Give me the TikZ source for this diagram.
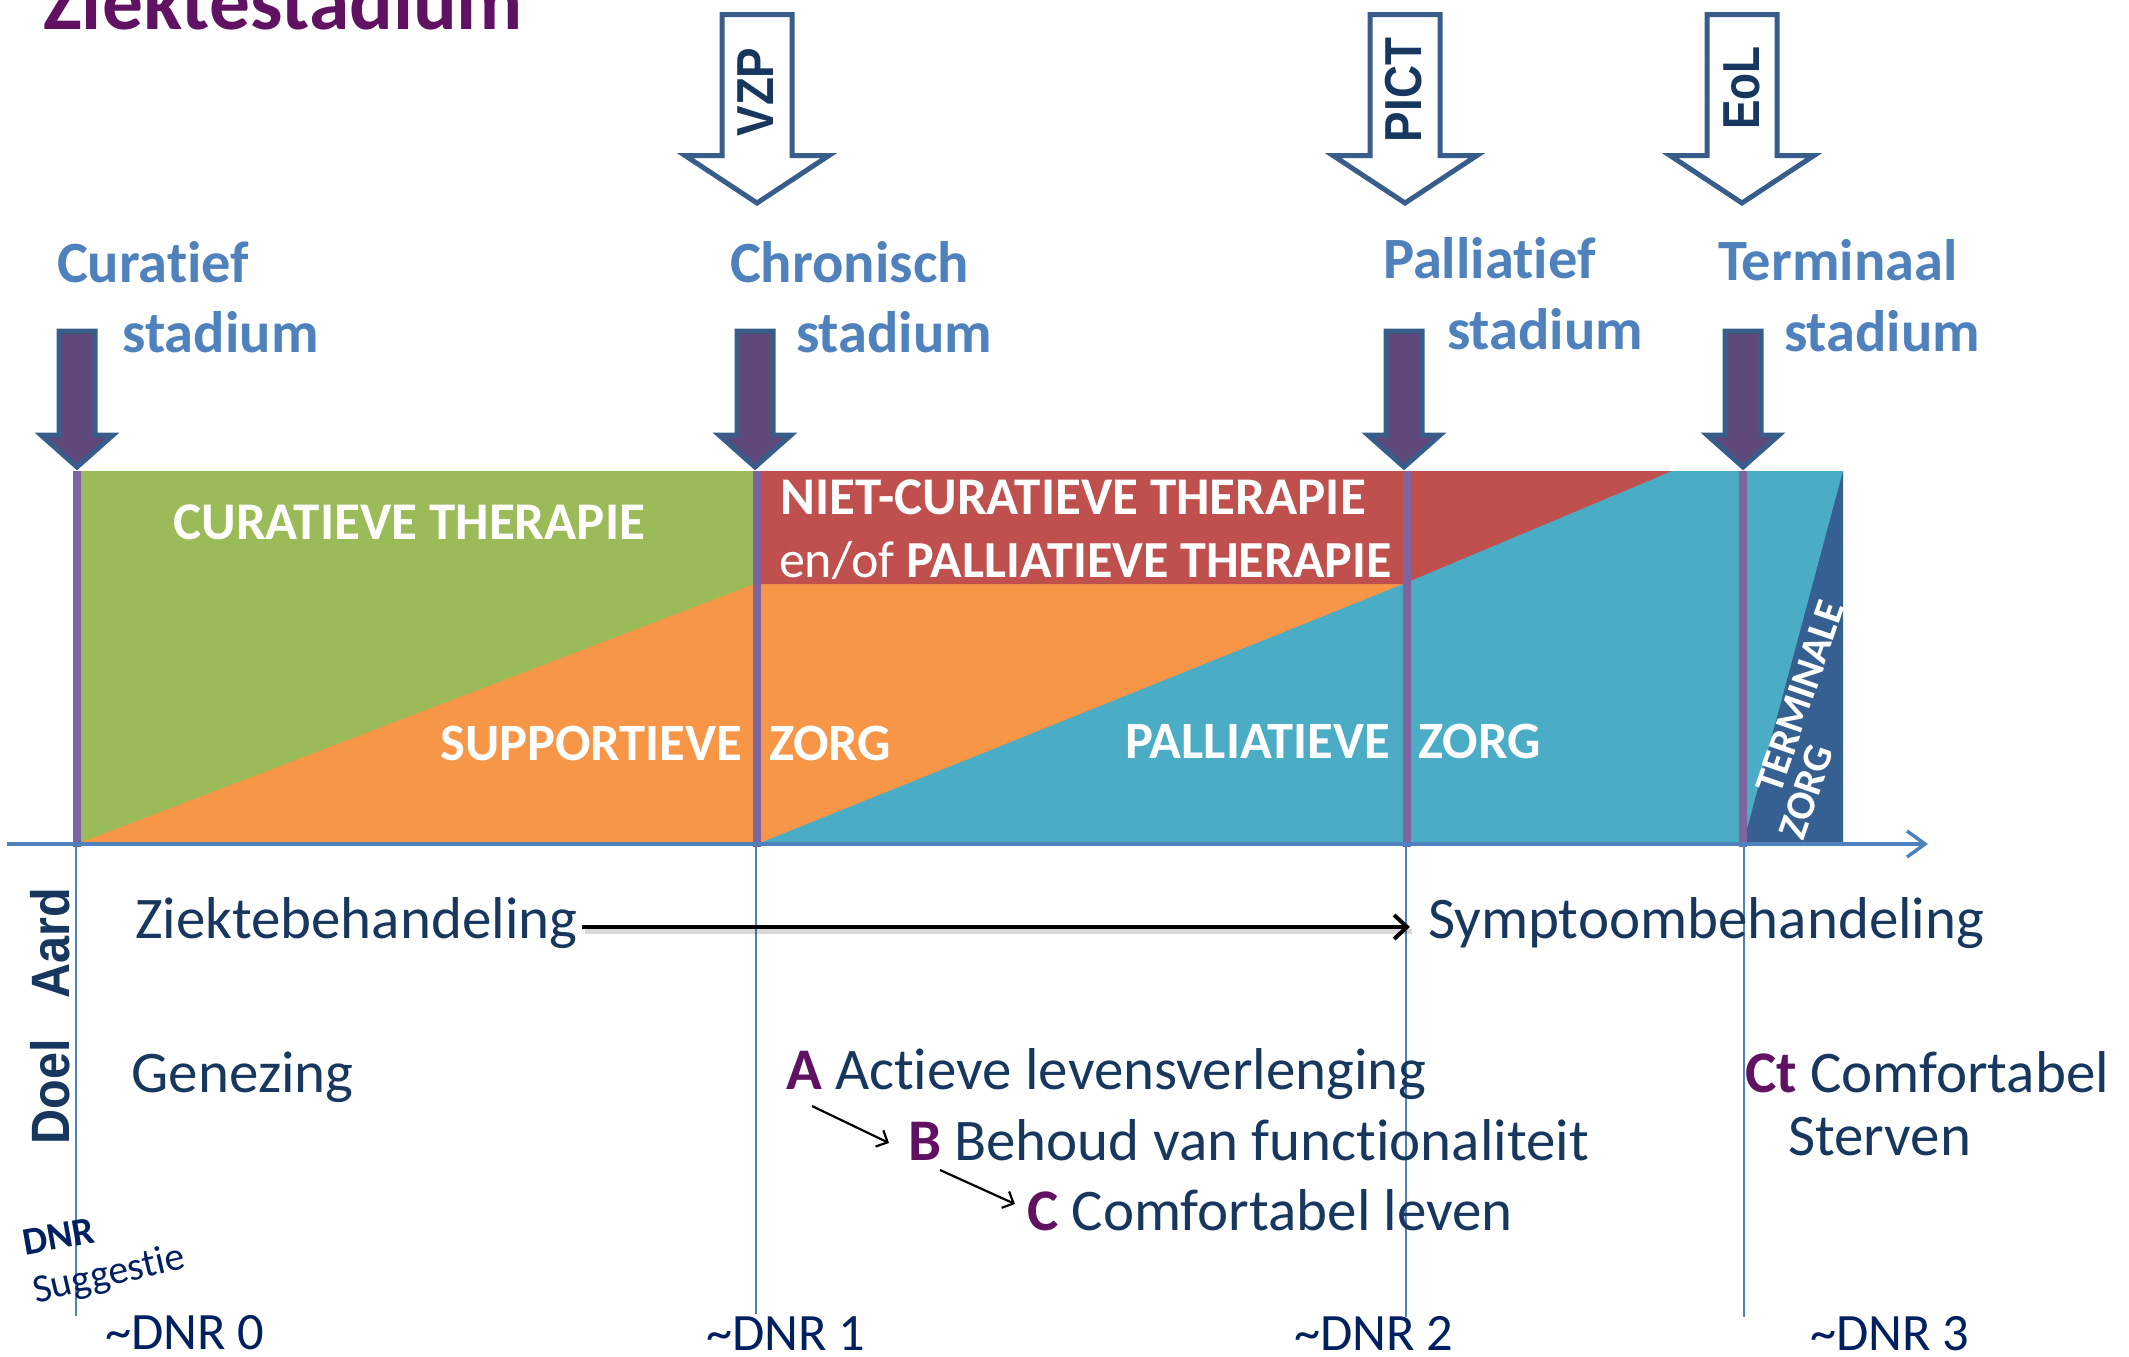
\documentclass[tikz,border=0pt]{standalone}
\usepackage{fontspec}
\setmainfont{Carlito}[Ligatures=NoCommon]
\newfontfamily\arialfam{Liberation Sans}
\usepackage{graphicx}
\usetikzlibrary{arrows.meta}
\newcommand\fsz[1]{\fontsize{#1}{#1}\selectfont}
\definecolor{cgreen}{RGB}{155,187,89}
\definecolor{corange}{RGB}{247,150,70}
\definecolor{cred}{RGB}{192,80,77}
\definecolor{cteal}{RGB}{75,172,198}
\definecolor{cdark}{RGB}{54,96,146}
\definecolor{linepurple}{RGB}{128,100,162}
\definecolor{arrowfill}{RGB}{95,73,122}
\definecolor{arrowborder}{RGB}{56,93,138}
\definecolor{stageblue}{RGB}{79,129,189}
\definecolor{txtnavy}{RGB}{23,55,94}
\definecolor{dnrblue}{RGB}{0,32,96}
\definecolor{titlepurple}{RGB}{96,17,98}
\begin{document}
\begin{tikzpicture}[x=1pt,y=-1pt,
  txt/.style={inner sep=0pt,outer sep=0pt,anchor=base west},
  stagelbl/.style={txt,text=stageblue,font=\fsz{58.5}\bfseries},
  arealbl/.style={txt,text=white,font=\fsz{53}\bfseries},
  termlbl/.style={inner sep=0pt,outer sep=0pt,anchor=center,rotate=71,text=white,font=\fsz{41}\bfseries},
  body/.style={txt,text=txtnavy,font=\fsz{59}},
  dnrlbl/.style={txt,text=dnrblue,font=\fsz{52.5}},
  vlbl/.style={inner sep=0pt,outer sep=0pt,anchor=center,rotate=90,text=txtnavy,font=\arialfam\bfseries\fsz{52}},
  stagearrow/.style={fill=arrowfill,draw=arrowborder,line width=5pt},
  openarrow/.style={fill=white,draw=arrowborder,line width=5pt},
  stageline/.style={draw=linepurple,line width=8pt},
  thinline/.style={draw=stageblue,line width=1.5pt},
  axisline/.style={draw=stageblue,line width=3.5pt,-{Straight Barb[length=18pt,width=26pt]}},
  mainarrow/.style={draw=black,line width=4pt,-{Straight Barb[length=13pt,width=24pt]}},
  smallarrow/.style={draw=black,line width=2.2pt,-{Straight Barb[length=9pt,width=18pt]}},
  stagearr/.pic={\draw[stagearrow] (-18,331) -- (18,331) -- (18,435) -- (36,435) -- (0,467) -- (-36,435) -- (-18,435) -- cycle;},
  openarr/.pic={\draw[openarrow] (-35,14.5) -- (35,14.5) -- (35,155.5) -- (72,155.5) -- (0,203) -- (-72,155.5) -- (-35,155.5) -- cycle;}
]
\useasboundingbox (0,0) rectangle (2129,1357);
% coloured areas
\fill[cgreen] (77,471) rectangle (757,844);
\fill[corange] (77,844) -- (757,583) -- (757,844) -- cycle;
\fill[cteal] (757,471) rectangle (1843,844);
\fill[corange] (757,584) -- (1403,584) -- (757,844) -- cycle;
\fill[cred] (757,471) -- (1672,471) -- (1403,584) -- (757,584) -- cycle;
\fill[cdark] (1743,844) -- (1843,471) -- (1843,844) -- cycle;
% area labels
\node[arealbl] (curther) at (173.5,539) {CURATIEVE THERAPIE};
\node[arealbl] (nietcur) at (780.6,514) {NIET-CURATIEVE THERAPIE};
\node[arealbl,font=\fsz{52}\bfseries] (enof) at (779,577) {\mdseries en/of \bfseries PALLIATIEVE THERAPIE};
\node[arealbl,font=\fsz{52.5}\bfseries,anchor=base east] (supp) at (742,760) {SUPPORTIEVE};
\node[arealbl,font=\fsz{52.5}\bfseries] (suppz) at (769,760) {ZORG};
\node[arealbl,font=\fsz{52.5}\bfseries,anchor=base east] (pall) at (1390,758) {PALLIATIEVE};
\node[arealbl,font=\fsz{52.5}\bfseries] (pallz) at (1418.6,758) {ZORG};
\node[termlbl] (term) at (1800,697) {TERMINALE};
\node[termlbl] (termz) at (1806,792) {ZORG};
% stage lines
\draw[stageline] (77,471) -- (77,847);
\draw[stageline] (757,471) -- (757,847);
\draw[stageline] (1407,471) -- (1407,847);
\draw[stageline] (1743,471) -- (1743,847);
% axis
\draw[axisline] (7,844) -- (1928,844);
% thin lines
\draw[thinline] (76,844) -- (76,1316);
\draw[thinline] (756,844) -- (756,1314);
\draw[thinline] (1406,844) -- (1406,1317);
\draw[thinline] (1744,844) -- (1744,1317);
% stage arrows
\pic at (77,0) {stagearr};
\pic at (755,0) {stagearr};
\pic at (1404,0) {stagearr};
\pic at (1743,0) {stagearr};
% open arrows
\pic at (757,0) {openarr};
\pic at (1405,0) {openarr};
\pic at (1742,0) {openarr};
\node[vlbl] (vzp) at (756,92) {\scalebox{0.88}[1]{VZP}};
\node[vlbl] (pict) at (1404,90) {\scalebox{0.88}[1]{PICT}};
\node[vlbl] (eol) at (1742,88) {\scalebox{0.85}[1]{EoL}};
% title
\node[txt,text=titlepurple,font=\fsz{81.5}\bfseries] (title) at (43,29) {Ziektestadium};
% stage labels
\node[stagelbl] (cur1) at (57,282) {Curatief};
\node[stagelbl] (cur2) at (122.5,352) {stadium};
\node[stagelbl] (chr1) at (730,282) {Chronisch};
\node[stagelbl] (chr2) at (796,352) {stadium};
\node[stagelbl] (pal1) at (1383,278) {Palliatief};
\node[stagelbl] (pal2) at (1447,349) {stadium};
\node[stagelbl] (ter1) at (1718,280) {Terminaal};
\node[stagelbl] (ter2) at (1784,351) {stadium};
% side labels
\node[vlbl,font=\arialfam\bfseries\fsz{54}] (aard) at (50,943) {\scalebox{0.9}[1]{Aard}};
\node[vlbl,font=\arialfam\bfseries\fsz{54}] (doel) at (50,1092) {\scalebox{0.9}[1]{Doel}};
% body texts
\node[body] (zb) at (135,938) {Ziektebehandeling};
\node[body] (sb) at (1428,938) {Symptoombehandeling};
\node[body] (gen) at (131.6,1092) {Genezing};
\node[body] (a) at (786,1089) {\textcolor{titlepurple}{\bfseries A} Actieve levensverlenging};
\node[body] (b) at (908,1160) {\textcolor{titlepurple}{\bfseries B} Behoud van functionaliteit};
\node[body] (c) at (1027,1230) {\textcolor{titlepurple}{\bfseries C} Comfortabel leven};
\node[body] (ct) at (1745,1092) {\textcolor{titlepurple}{\bfseries Ct} Comfortabel};
\node[body] (st) at (1788,1155) {Sterven};
% arrows
\draw[line width=5pt,black,opacity=0.15] ([xshift=8pt,yshift=7pt]zb.base east) -- ([xshift=-16pt,yshift=7pt]sb.base west);
\draw[mainarrow] ([xshift=5pt,yshift=11pt]zb.base east) -- ([xshift=-18pt,yshift=11pt]sb.base west);
\draw[smallarrow] ([xshift=26pt,yshift=-17pt]a.base west) -- ([xshift=-19pt,yshift=17pt]b.base west);
\draw[smallarrow] ([xshift=32pt,yshift=-10pt]b.base west) -- ([xshift=-12pt,yshift=26pt]c.base west);
% DNR
\node[txt,text=dnrblue,font=\fsz{39}\bfseries,rotate=10] (dnr) at (25,1255) {DNR};
\node[txt,text=dnrblue,font=\fsz{40},rotate=13] (sugg) at (36,1303) {Suggestie};
\node[dnrlbl] (d0) at (105,1349) {\textasciitilde DNR 0};
\node[dnrlbl] (d1) at (706,1350) {\textasciitilde DNR 1};
\node[dnrlbl] (d2) at (1294,1350) {\textasciitilde DNR 2};
\node[dnrlbl] (d3) at (1810,1350) {\textasciitilde DNR 3};
\end{tikzpicture}
\end{document}
